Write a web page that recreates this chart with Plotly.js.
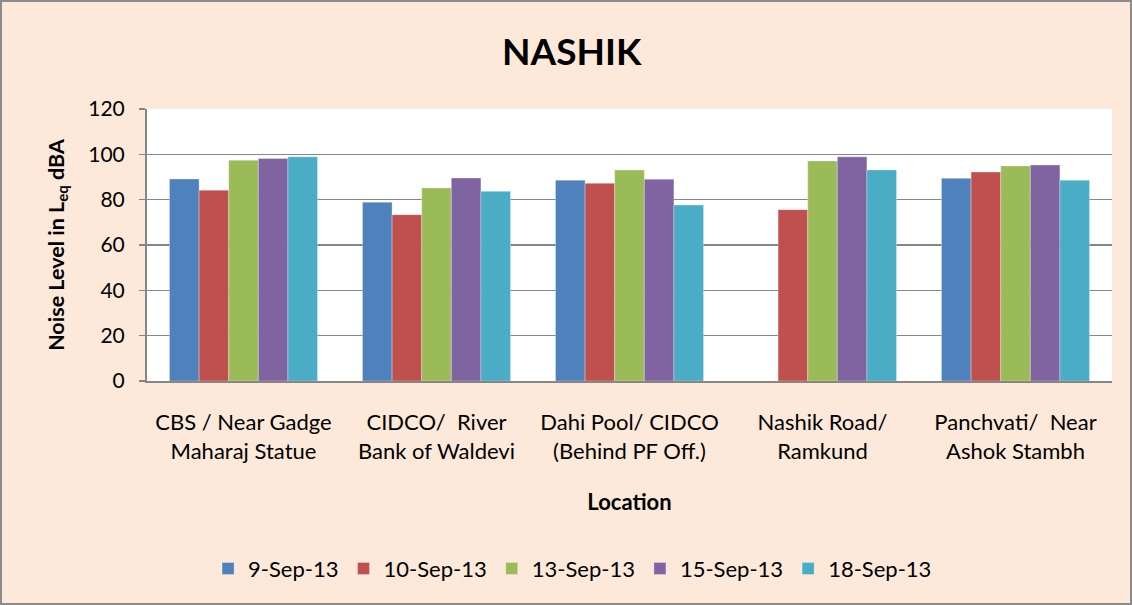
<!DOCTYPE html>
<html>
<head>
<meta charset="utf-8">
<script src="https://cdn.plot.ly/plotly-3.0.1.min.js"></script>
<style>
html,body{margin:0;padding:0;background:#FDE9D9;}
#wrap{width:1132px;height:605px;box-sizing:border-box;border:2px solid #8c8c8c;overflow:hidden;}
#chart{width:1128px;height:601px;}
</style>
</head>
<body>
<div id="wrap"><div id="chart"></div></div>
<script>
const categories = [
  "CBS / Near Gadge<br>Maharaj Statue",
  "CIDCO/  River<br>Bank of Waldevi",
  "Dahi Pool/ CIDCO<br>(Behind PF Off.)",
  "Nashik Road/<br>Ramkund",
  "Panchvati/  Near<br>Ashok Stambh"
];
const seriesNames = ["9-Sep-13", "10-Sep-13", "13-Sep-13", "15-Sep-13", "18-Sep-13"];
const sep09 = [89.1, 78.9, 88.6, null, 89.4];
const sep10 = [84.2, 73.4, 87.2, 75.6, 92.2];
const sep13 = [97.4, 85.2, 93.1, 97.1, 94.9];
const sep15 = [98.2, 89.6, 89.0, 98.9, 95.3];
const sep18 = [98.9, 83.7, 77.6, 93.1, 88.6];
const seriesValues = [sep09, sep10, sep13, sep15, sep18];
const colors = ["#4F81BD", "#C0504D", "#9BBB59", "#8064A2", "#4BACC6"];
const yTicks = [0, 20, 40, 60, 80, 100, 120];

const font = "Lato, 'Noto Sans', sans-serif";
const traces = seriesNames.map((n, i) => ({
  type: "bar",
  name: n,
  x: categories,
  y: seriesValues[i],
  marker: {color: colors[i], line: {color: "rgba(255,255,255,0.6)", width: 0.5}},
  hoverinfo: "y+name"
}));

const layout = {
  width: 1128, height: 601,
  paper_bgcolor: "#FDE9D9",
  plot_bgcolor: "#FFFFFF",
  margin: {l: 145, r: 18, t: 107, b: 221.5, pad: 0},
  font: {family: font, color: "#000"},
  title: {text: "<b>NASHIK</b>", font: {size: 37, family: font, color: "#000"}, x: 0.505, xanchor: "center", y: 0.917, yanchor: "middle"},
  barmode: "group",
  bargap: 0.233,
  bargroupgap: 0,
  showlegend: true,
  legend: {orientation: "h", x: 0.441, xanchor: "center", y: -0.69, yanchor: "middle", font: {size: 22, family: font}, bgcolor: "rgba(0,0,0,0)", itemwidth: 30, tracegroupgap: 0},
  xaxis: {
    type: "category",
    showline: true, linecolor: "#868686", linewidth: 2,
    ticks: "", tickfont: {size: 22, family: font},
    ticklabelstandoff: 21,
    title: {text: "<b>Location</b>", font: {size: 22, family: font}, standoff: 32},
    fixedrange: true
  },
  yaxis: {
    range: [0, 120],
    tickvals: yTicks,
    ticktext: yTicks.map(String),
    showline: true, linecolor: "#868686", linewidth: 2,
    ticks: "outside", ticklen: 6, tickcolor: "#868686", tickwidth: 1.5,
    showgrid: true, gridcolor: "#868686", gridwidth: 1.5,
    zeroline: false,
    tickfont: {size: 21, family: font},
    ticklabelstandoff: 10,
    title: {text: "<b>Noise Level in L<sub>eq</sub> dBA</b>", font: {size: 21.5, family: font}, standoff: 18},
    fixedrange: true
  }
};

Plotly.newPlot("chart", traces, layout, {displayModeBar: false, staticPlot: true});
</script>
</body>
</html>
